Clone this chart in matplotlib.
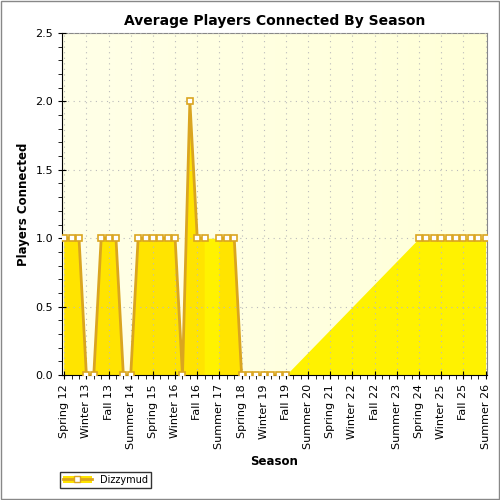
import numpy as np
import matplotlib.pyplot as plt
from matplotlib.ticker import MultipleLocator
from matplotlib.lines import Line2D
from matplotlib.patches import Patch

seasons = ["Spring", "Summer", "Fall", "Winter"]
labels = []
year = 12
for i in range(58):
    s = seasons[i % 4]
    if s == "Winter":
        year += 1
    labels.append("%s %d" % (s, year))

nan = np.nan
players = [1, 1, 1, 0, 0, 1, 1, 1, 0, 0,
           1, 1, 1, 1, 1, 1, 0, 2, 1, 1,
           nan, 1, 1, 1, 0, 0, 0, 0, 0, 0,
           0, nan, nan, nan, nan, nan, nan, nan, nan, nan,
           nan, nan, nan, nan, nan, nan, nan, nan, 1, 1,
           1, 1, 1, 1, 1, 1, 1, 1]

x = np.arange(len(players))
y = np.array(players, dtype=float)
ok = ~np.isnan(y)
left = x <= 30

fig = plt.figure(figsize=(5, 5), dpi=100)
fig.patch.set_facecolor("white")
ax = fig.add_axes([0.124, 0.25, 0.85, 0.684])

# background gradient
grad = np.linspace(0, 1, 256).reshape(1, -1)
ax.imshow(grad, extent=[-0.5, 57.5, 0, 2.5], aspect="auto", cmap=plt.matplotlib.colors.LinearSegmentedColormap.from_list("bg", ["#FFFFE8", "#FFFFD8"]), zorder=0)

# bridged fill where values are missing
ax.fill_between(x[ok], y[ok], color="#FFF200", zorder=1, lw=0)
yl = np.where(ok & left, y, np.nan)
ax.fill_between(x, yl, color="#FFE400", zorder=2, lw=0)
ax.plot(x, yl, color="#DAA520", lw=2, zorder=3)
ax.plot(x, y, "s", ms=5, mfc="white", mec="#DAA520", mew=1.2, zorder=4)

ax.set_xlim(-0.3, 57.2)
ax.set_ylim(0, 2.5)
ax.set_xticks(x[::3])
ax.set_xticklabels(labels[::3], rotation=90, fontsize=8)
ax.xaxis.set_minor_locator(MultipleLocator(1))
ax.set_yticks([0, 0.5, 1, 1.5, 2, 2.5])
ax.set_yticklabels(["0.0", "0.5", "1.0", "1.5", "2.0", "2.5"], fontsize=8)
ax.yaxis.set_minor_locator(MultipleLocator(0.1))
ax.tick_params(which="major", direction="inout", length=6)
ax.tick_params(which="minor", direction="out", length=3)
ax.grid(True, ls=(0, (1, 4)), color="#BBBBBB", lw=0.8, zorder=0.5)
ax.set_axisbelow(False)
for sp in ["top", "right"]:
    ax.spines[sp].set_color("#888888")

ax.set_title("Average Players Connected By Season", fontsize=10, fontweight="bold")
ax.set_xlabel("Season", fontsize=8.5, fontweight="bold")
ax.set_ylabel("Players Connected", fontsize=8.5, fontweight="bold")

handle = (Patch(fc="#FFE400", ec="none"),
          Line2D([], [], color="#DAA520", lw=2, marker="s", ms=5, mfc="white", mec="#DAA520"))
fig.legend([handle], ["Dizzymud"], loc="lower left", bbox_to_anchor=(0.11, 0.015), fontsize=7,
           frameon=True, fancybox=False, edgecolor="black", handlelength=3, borderpad=0.3)

fig.add_artist(plt.Rectangle((0.002, 0.002), 0.996, 0.996, transform=fig.transFigure,
                             fill=False, ec="#888888", lw=1))
fig.savefig("out.png")
